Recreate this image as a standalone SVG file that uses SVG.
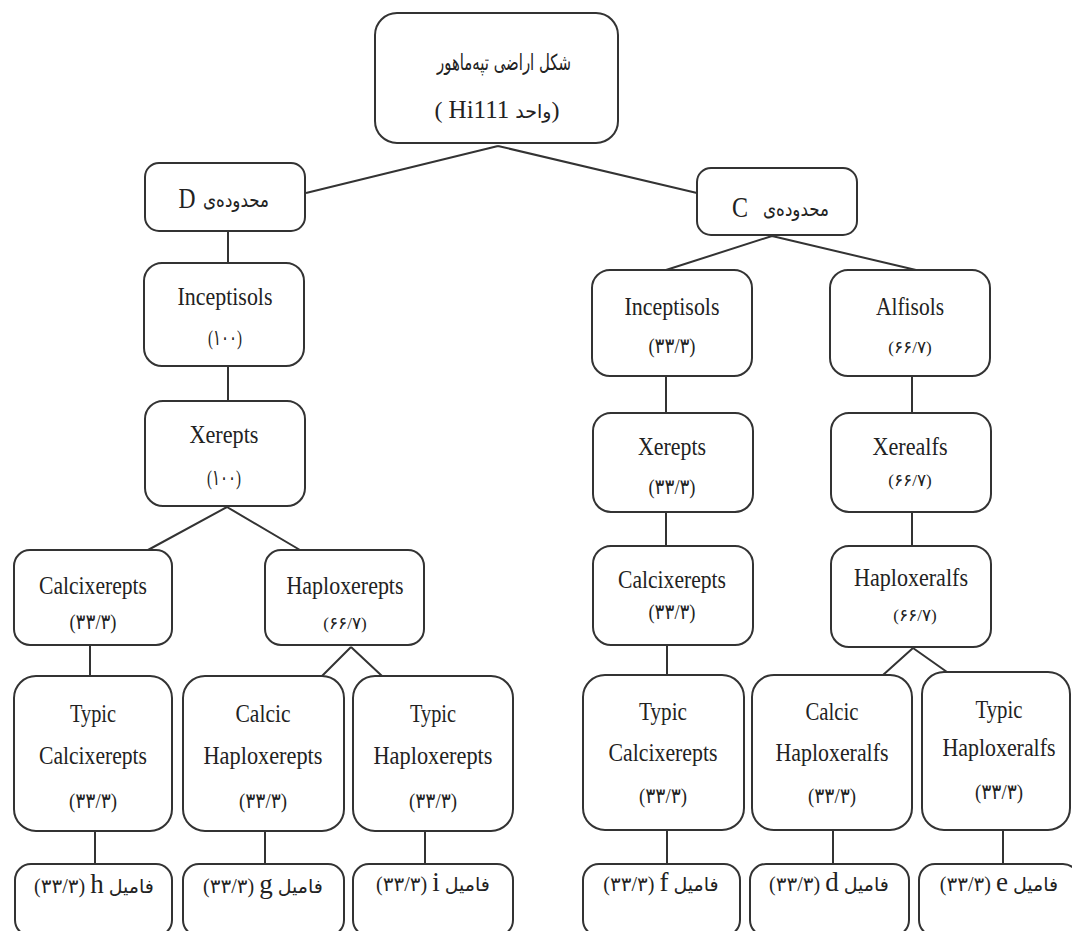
<svg xmlns="http://www.w3.org/2000/svg" width="1072" height="931" viewBox="0 0 1072 931">
<style>
.box{fill:#fff;stroke:#333;stroke-width:2}
.lbl{font-family:"Liberation Serif","DejaVu Sans",serif;font-size:25px;fill:#222;text-anchor:middle}
.num{font-family:"Liberation Serif","DejaVu Sans",serif;font-size:21px;fill:#222;text-anchor:middle}
.num2{font-family:"Liberation Serif","DejaVu Sans",serif;font-size:17px;fill:#222;text-anchor:middle}
.fa{font-family:"DejaVu Sans","Liberation Serif",sans-serif;font-size:20px;fill:#222;text-anchor:middle}
.bot{font-family:"Liberation Serif","DejaVu Sans",serif;font-size:20px;fill:#222;text-anchor:middle;direction:ltr}
.lt{font-family:"Liberation Serif",serif;font-size:27px}
.fw{font-family:"DejaVu Sans",sans-serif;font-size:19px}
.big{font-family:"Liberation Serif",serif;font-size:30px;fill:#222;text-anchor:middle}
#connectors path{fill:none;stroke:#333;stroke-width:2}
</style>
<rect width="1072" height="931" fill="#fff"/>
<g id="connectors">
<path d="M498 146 L306 193 M498 146 L697 193"/>
<path d="M228 231 V263 M228 366 V401"/>
<path d="M227 507 L148 550 M227 507 L300 550"/>
<path d="M90 645 V676 M351 647 L322 676 M351 647 L382 676"/>
<path d="M95 831 V864 M265 831 V864 M425 831 V864"/>
<path d="M772 236 L666 270 M772 236 L916 270"/>
<path d="M666 376 V413 M912 376 V413 M666 512 V546 M912 512 V546"/>
<path d="M667 645 V675 M913 648 L883 675 M913 648 L947 672"/>
<path d="M667 830 V864 M833 830 V864 M1003 830 V864"/>
</g>
<g id="n-top"><rect class="box" x="375" y="13" width="243" height="130" rx="22"/>
<text class="fa" x="504" y="70" style="font-size:22px" textLength="134" lengthAdjust="spacingAndGlyphs">شکل اراضی تپه‌ماهور</text>
<text class="bot" x="497" y="118" style="font-size:24px">( <tspan style="font-size:25px">Hi111</tspan> <tspan style="font-family:'DejaVu Sans';font-size:19px">واحد</tspan>&#x200E;)</text></g>
<g id="n-D"><rect class="box" x="145" y="163" width="160" height="68" rx="14"/>
<text class="big" x="187" y="208" textLength="17" lengthAdjust="spacingAndGlyphs">D</text>
<text class="fa" x="236" y="207" textLength="66" lengthAdjust="spacingAndGlyphs">محدوده‌ی</text></g>
<g id="n-C"><rect class="box" x="697" y="168" width="160" height="67" rx="14"/>
<text class="big" x="740" y="217" textLength="16" lengthAdjust="spacingAndGlyphs">C</text>
<text class="fa" x="796" y="216" textLength="66" lengthAdjust="spacingAndGlyphs">محدوده‌ی</text></g>
<g id="n-inc-l"><rect class="box" x="144" y="263" width="160" height="103" rx="18"/>
<text class="lbl" x="225" y="305" textLength="95" lengthAdjust="spacingAndGlyphs">Inceptisols</text>
<text class="num" x="225" y="345" style="font-size:22px" textLength="34" lengthAdjust="spacingAndGlyphs">(۱۰۰)</text></g>
<g id="n-xer-l"><rect class="box" x="145" y="401" width="160" height="105" rx="18"/>
<text class="lbl" x="224" y="443" textLength="69" lengthAdjust="spacingAndGlyphs">Xerepts</text>
<text class="num" x="224" y="485" style="font-size:22px" textLength="34" lengthAdjust="spacingAndGlyphs">(۱۰۰)</text></g>
<g id="n-calx-l"><rect class="box" x="14" y="550" width="158" height="95" rx="16"/>
<text class="lbl" x="93" y="594" textLength="108" lengthAdjust="spacingAndGlyphs">Calcixerepts</text>
<text class="num" x="93" y="629" textLength="47" lengthAdjust="spacingAndGlyphs">(۳۳/۳)</text></g>
<g id="n-hapx-l"><rect class="box" x="265" y="550" width="159" height="95" rx="16"/>
<text class="lbl" x="345" y="594" textLength="117" lengthAdjust="spacingAndGlyphs">Haploxerepts</text>
<text class="num2" x="345" y="629">(۶۶/۷)</text></g>
<g id="n-tcal-l"><rect class="box" x="14" y="676" width="158" height="155" rx="22"/>
<text class="lbl" x="93" y="722" textLength="46" lengthAdjust="spacingAndGlyphs">Typic</text>
<text class="lbl" x="93" y="764" textLength="108" lengthAdjust="spacingAndGlyphs">Calcixerepts</text>
<text class="num" x="93" y="808" textLength="48" lengthAdjust="spacingAndGlyphs">(۳۳/۳)</text></g>
<g id="n-chap-l"><rect class="box" x="183" y="676" width="161" height="155" rx="22"/>
<text class="lbl" x="263" y="722" textLength="55" lengthAdjust="spacingAndGlyphs">Calcic</text>
<text class="lbl" x="263" y="764" textLength="119" lengthAdjust="spacingAndGlyphs">Haploxerepts</text>
<text class="num" x="263" y="808" textLength="48" lengthAdjust="spacingAndGlyphs">(۳۳/۳)</text></g>
<g id="n-thap-l"><rect class="box" x="353" y="676" width="160" height="155" rx="22"/>
<text class="lbl" x="433" y="722" textLength="46" lengthAdjust="spacingAndGlyphs">Typic</text>
<text class="lbl" x="433" y="764" textLength="119" lengthAdjust="spacingAndGlyphs">Haploxerepts</text>
<text class="num" x="433" y="808" textLength="48" lengthAdjust="spacingAndGlyphs">(۳۳/۳)</text></g>
<g id="n-h"><rect class="box" x="15" y="864" width="157" height="72" rx="16"/>
<text class="bot" x="94" y="893">(۳۳/۳) <tspan class="lt">h</tspan> <tspan class="fw">فامیل</tspan></text></g>
<g id="n-g"><rect class="box" x="183" y="864" width="161" height="72" rx="16"/>
<text class="bot" x="263" y="893">(۳۳/۳) <tspan class="lt">g</tspan> <tspan class="fw">فامیل</tspan></text></g>
<g id="n-i"><rect class="box" x="353" y="864" width="160" height="72" rx="16"/>
<text class="bot" x="433" y="891">(۳۳/۳) <tspan class="lt">i</tspan> <tspan class="fw">فامیل</tspan></text></g>
<g id="n-inc-r"><rect class="box" x="592" y="270" width="160" height="106" rx="18"/>
<text class="lbl" x="672" y="315" textLength="95" lengthAdjust="spacingAndGlyphs">Inceptisols</text>
<text class="num" x="672" y="353" textLength="47" lengthAdjust="spacingAndGlyphs">(۳۳/۳)</text></g>
<g id="n-alf"><rect class="box" x="830" y="270" width="160" height="106" rx="18"/>
<text class="lbl" x="910" y="315" textLength="68" lengthAdjust="spacingAndGlyphs">Alfisols</text>
<text class="num2" x="910" y="353">(۶۶/۷)</text></g>
<g id="n-xer-r"><rect class="box" x="593" y="413" width="160" height="99" rx="18"/>
<text class="lbl" x="672" y="455" textLength="68" lengthAdjust="spacingAndGlyphs">Xerepts</text>
<text class="num" x="672" y="494" textLength="47" lengthAdjust="spacingAndGlyphs">(۳۳/۳)</text></g>
<g id="n-xeralf"><rect class="box" x="831" y="413" width="160" height="99" rx="18"/>
<text class="lbl" x="910" y="455" textLength="75" lengthAdjust="spacingAndGlyphs">Xerealfs</text>
<text class="num2" x="910" y="486">(۶۶/۷)</text></g>
<g id="n-calx-r"><rect class="box" x="593" y="546" width="160" height="99" rx="18"/>
<text class="lbl" x="672" y="588" textLength="108" lengthAdjust="spacingAndGlyphs">Calcixerepts</text>
<text class="num" x="672" y="619" textLength="47" lengthAdjust="spacingAndGlyphs">(۳۳/۳)</text></g>
<g id="n-hapalf"><rect class="box" x="831" y="546" width="160" height="101" rx="18"/>
<text class="lbl" x="911" y="586" textLength="114" lengthAdjust="spacingAndGlyphs">Haploxeralfs</text>
<text class="num2" x="915" y="621">(۶۶/۷)</text></g>
<g id="n-tcal-r"><rect class="box" x="583" y="675" width="161" height="155" rx="22"/>
<text class="lbl" x="663" y="720" textLength="48" lengthAdjust="spacingAndGlyphs">Typic</text>
<text class="lbl" x="663" y="761" textLength="109" lengthAdjust="spacingAndGlyphs">Calcixerepts</text>
<text class="num" x="663" y="803" textLength="48" lengthAdjust="spacingAndGlyphs">(۳۳/۳)</text></g>
<g id="n-chalf"><rect class="box" x="752" y="675" width="160" height="155" rx="22"/>
<text class="lbl" x="832" y="720" textLength="53" lengthAdjust="spacingAndGlyphs">Calcic</text>
<text class="lbl" x="832" y="761" textLength="113" lengthAdjust="spacingAndGlyphs">Haploxeralfs</text>
<text class="num" x="832" y="803" textLength="48" lengthAdjust="spacingAndGlyphs">(۳۳/۳)</text></g>
<g id="n-thalf"><rect class="box" x="922" y="672" width="148" height="158" rx="22"/>
<text class="lbl" x="999" y="718" textLength="47" lengthAdjust="spacingAndGlyphs">Typic</text>
<text class="lbl" x="999" y="756" textLength="113" lengthAdjust="spacingAndGlyphs">Haploxeralfs</text>
<text class="num" x="999" y="799" textLength="48" lengthAdjust="spacingAndGlyphs">(۳۳/۳)</text></g>
<g id="n-f"><rect class="box" x="583" y="864" width="157" height="72" rx="16"/>
<text class="bot" x="661" y="891">(۳۳/۳) <tspan class="lt">f</tspan> <tspan class="fw">فامیل</tspan></text></g>
<g id="n-d"><rect class="box" x="750" y="864" width="159" height="72" rx="16"/>
<text class="bot" x="829" y="891">(۳۳/۳) <tspan class="lt">d</tspan> <tspan class="fw">فامیل</tspan></text></g>
<g id="n-e"><rect class="box" x="919" y="864" width="160" height="72" rx="16"/>
<text class="bot" x="999" y="891">(۳۳/۳) <tspan class="lt">e</tspan> <tspan class="fw">فامیل</tspan></text></g>
</svg>
